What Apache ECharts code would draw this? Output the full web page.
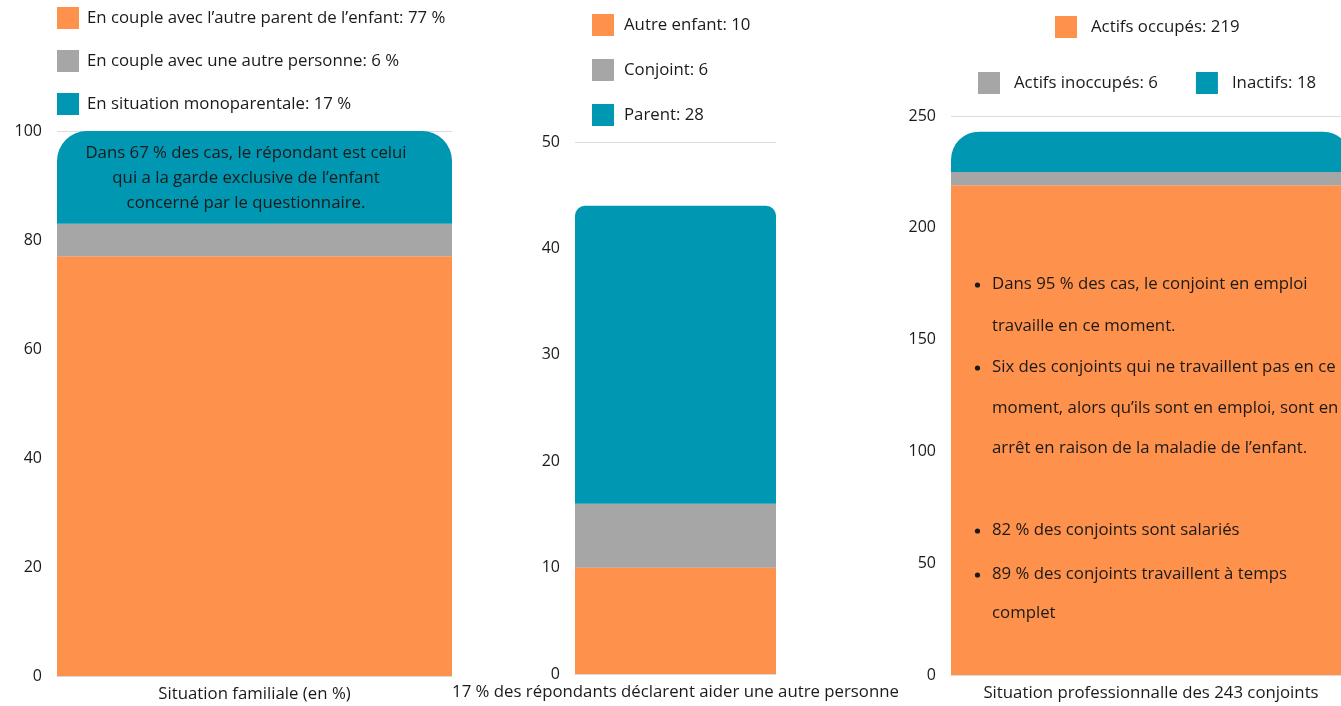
<!DOCTYPE html>
<html lang="fr">
<head>
<meta charset="utf-8">
<title>Situation des répondants</title>
<script src="https://cdn.jsdelivr.net/npm/echarts@6/dist/echarts.min.js"></script>
<style>
  html, body { margin: 0; padding: 0; background: #fff; }
  #chart { width: 1341px; height: 706px; }
</style>
</head>
<body>
<div id="chart"></div>
<script>
// Panel 1: family situation (percent)
const familyCategory = ['Situation familiale (en %)'];
const familyNames = [
  'En couple avec l’autre parent de l’enfant: 77 %',
  'En couple avec une autre personne: 6 %',
  'En situation monoparentale: 17 %'
];
const familyValues = [77, 6, 17];

// Panel 2: people helped by the respondent
const helpCategory = ['17 % des répondants déclarent aider une autre personne'];
const helpNames = ['Autre enfant: 10', 'Conjoint: 6', 'Parent: 28'];
const helpValues = [10, 6, 28];

// Panel 3: occupational status of partners
const jobCategory = ['Situation professionnalle des 243 conjoints'];
const jobNames = ['Actifs occupés: 219', 'Actifs inoccupés: 6', 'Inactifs: 18'];
const jobValues = [219, 6, 18];

// Value-axis ticks per panel
const axisMax = [100, 50, 250];
const axisStep = [20, 10, 50];

// Annotation texts
const familyNote = 'Dans 67 % des cas, le répondant est celui\nqui a la garde exclusive de l’enfant\nconcerné par le questionnaire.';
const jobNotes = [
  { text: 'Dans 95 % des cas, le conjoint en emploi', bullet: true },
  { text: 'travaille en ce moment.', bullet: false },
  { text: 'Six des conjoints qui ne travaillent pas en ce', bullet: true },
  { text: 'moment, alors qu’ils sont en emploi, sont en', bullet: false },
  { text: 'arrêt en raison de la maladie de l’enfant.', bullet: false },
  { text: '82 % des conjoints sont salariés', bullet: true },
  { text: '89 % des conjoints travaillent à temps', bullet: true },
  { text: 'complet', bullet: false }
];

const COLORS = ['#FE914B', '#A6A6A6', '#0097B2'];
const FONT = '"Open Sans", "Noto Sans", sans-serif';
const FS = 16.8;
const TEXT = '#1a1a1a';

const chart = echarts.init(document.getElementById('chart'), null, { renderer: 'canvas' });

const grids = [
  { left: 57, top: 131, width: 395, height: 545, outerBoundsMode: 'none', containLabel: false },
  { left: 575, top: 142, width: 201, height: 532, outerBoundsMode: 'none', containLabel: false },
  { left: 951, top: 116, width: 400, height: 559, outerBoundsMode: 'none', containLabel: false }
];
const cats = [familyCategory, helpCategory, jobCategory];

const xAxes = cats.map((c, i) => ({
  type: 'category',
  gridIndex: i,
  data: c,
  axisTick: { show: false },
  axisLine: { show: true, lineStyle: { color: '#d9d9d9', width: 1 } },
  axisLabel: { color: TEXT, fontFamily: FONT, fontSize: FS, margin: 10, interval: 0 }
}));

const yAxes = axisMax.map((m, i) => ({
  type: 'value',
  gridIndex: i,
  min: 0,
  max: m,
  interval: axisStep[i],
  axisLine: { show: false },
  axisTick: { show: false },
  splitLine: { show: true, lineStyle: { color: '#dcdcdc', width: 1 } },
  axisLabel: { color: TEXT, fontFamily: FONT, fontSize: 16, margin: 15 }
}));

const radii = [30, 10, 28];
function stackSeries(names, values, idx) {
  return names.map((n, k) => ({
    name: n,
    type: 'bar',
    stack: 'panel' + idx,
    xAxisIndex: idx,
    yAxisIndex: idx,
    barWidth: '100%',
    itemStyle: {
      color: COLORS[k],
      borderRadius: k === names.length - 1 ? [radii[idx], radii[idx], 0, 0] : 0
    },
    emphasis: { disabled: true },
    data: [values[k]]
  }));
}

const series = [
  ...stackSeries(familyNames, familyValues, 0),
  ...stackSeries(helpNames, helpValues, 1),
  ...stackSeries(jobNames, jobValues, 2)
];

function legend(extra, textGap) {
  return Object.assign({
    icon: 'rect',
    itemWidth: 22,
    itemHeight: 22,
    padding: 0,
    selectedMode: false,
    textStyle: { color: TEXT, fontFamily: FONT, fontSize: FS, padding: [0, 0, 0, textGap - 5] }
  }, extra);
}

const legends = [
  legend({ orient: 'vertical', left: 57, top: 7, itemGap: 21, data: familyNames }, 8),
  legend({ orient: 'vertical', left: 592, top: 14, itemGap: 23, data: helpNames }, 10),
  legend({ orient: 'horizontal', left: 1055, top: 16, data: [jobNames[0]] }, 14),
  legend({ orient: 'horizontal', left: 978, top: 72, itemGap: 38, data: [jobNames[1], jobNames[2]] }, 14)
];

// Note layout in panel 3 (row centres)
const noteRows = [284, 326, 367, 408, 448, 530, 574, 613];
const graphic = [
  {
    type: 'text',
    silent: true,
    z: 100,
    x: 246,
    y: 141,
    style: {
      text: familyNote,
      align: 'center',
      verticalAlign: 'top',
      fill: TEXT,
      font: FS + 'px ' + FONT,
      lineHeight: 25
    }
  }
];
jobNotes.forEach((n, i) => {
  if (n.bullet) {
    graphic.push({
      type: 'circle', silent: true, z: 100,
      shape: { cx: 977.5, cy: noteRows[i] + 1, r: 2.6 },
      style: { fill: TEXT }
    });
  }
  graphic.push({
    type: 'text', silent: true, z: 100, x: 992, y: noteRows[i],
    style: { text: n.text, fill: TEXT, font: FS + 'px ' + FONT, verticalAlign: 'middle', align: 'left' }
  });
});

chart.setOption({
  animation: false,
  backgroundColor: '#ffffff',
  grid: grids,
  xAxis: xAxes,
  yAxis: yAxes,
  legend: legends,
  series: series,
  graphic: graphic
});
</script>
</body>
</html>
